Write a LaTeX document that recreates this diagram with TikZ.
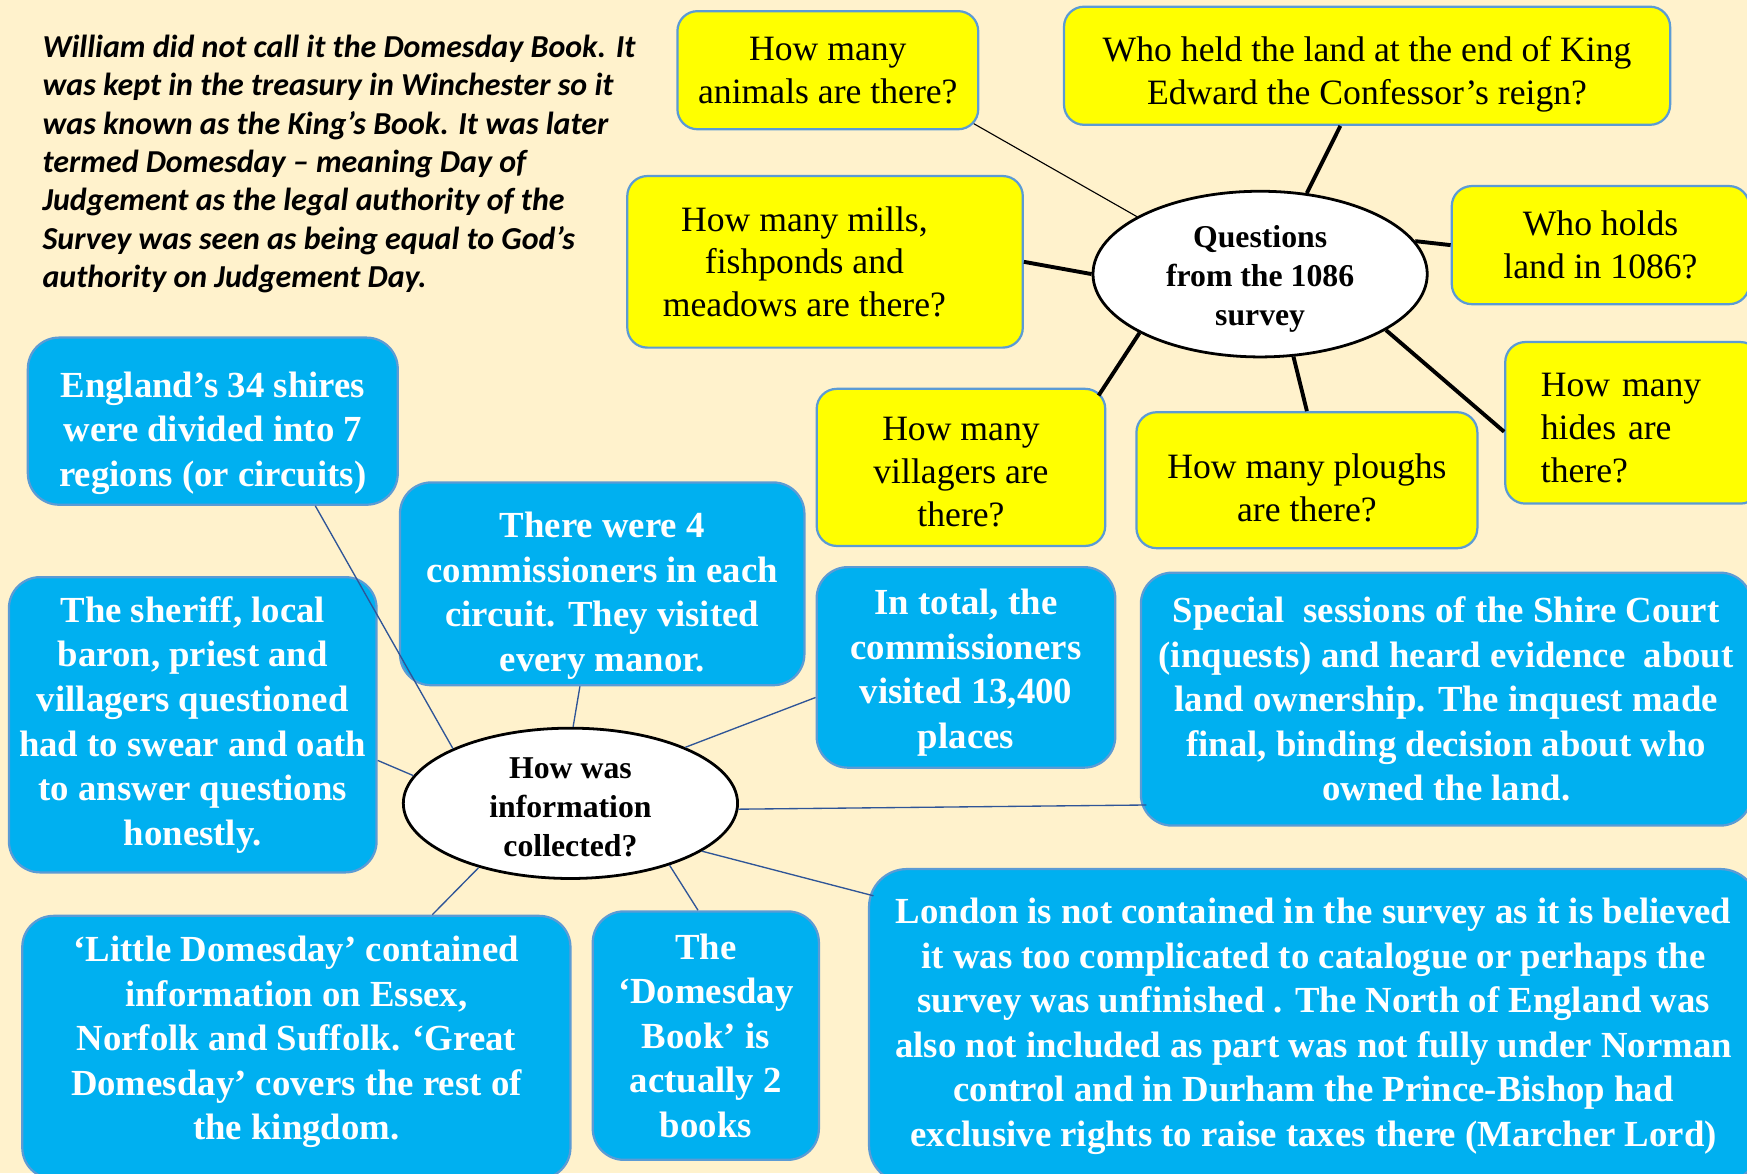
\documentclass[tikz,border=0pt]{standalone}
\usepackage{fontspec}
\setmainfont{Liberation Serif}
\newfontfamily\calibfont{Carlito}
\usetikzlibrary{shapes.geometric}
\definecolor{bgc}{HTML}{FFF2CC}
\definecolor{ylw}{HTML}{FFFF00}
\definecolor{bluef}{HTML}{00B0F0}
\definecolor{edgeb}{HTML}{5B9BD5}
\definecolor{linkb}{HTML}{2F5597}
\newcommand\tdrop[1]{\rule{0pt}{#1pt}}
\newcommand\tlift[1]{\rule[-#1pt]{0pt}{#1pt}}
\newcommand\tleft{\kern37pt\rule{0pt}{1pt}}
\begin{document}
\begin{tikzpicture}[x=1pt,y=-1pt,
  sz/.style 2 args={minimum width=#1pt, minimum height=#2pt},
  ybox/.style={draw=edgeb, line width=2pt, fill=ylw, rounded corners=18pt, align=center, inner sep=0pt, font=\fontsize{32}{38.5}\selectfont},
  bbox/.style={draw=edgeb, line width=2pt, fill=bluef, rounded corners=28pt, align=center, inner sep=0pt, text=white, font=\fontsize{33}{40}\selectfont\bfseries},
  hub/.style={ellipse, draw=black, line width=2.5pt, fill=white, inner sep=0pt, align=center, font=\fontsize{28.5}{35}\selectfont\bfseries},
  qlink/.style={draw=black, line width=3.5pt},
  qthin/.style={draw=black, line width=1pt},
  ilink/.style={draw=linkb, line width=1.2pt},
  note/.style={anchor=north west, inner sep=0pt, align=left, font=\calibfont\fontsize{28.7}{34.5}\selectfont\bfseries\itshape}
]
\clip (0,0) rectangle (1568,1053);
\fill[bgc] (0,0) rectangle (1568,1053);

% intro text
\node[note] (intro) at (38,31) {William did not call it the Domesday Book. It\\was kept in the treasury in Winchester so it\\was known as the King’s Book. It was later\\termed Domesday – meaning Day of\\Judgement as the legal authority of the\\Survey was seen as being equal to God’s\\authority on Judgement Day.};

% questions hub and boxes
\node[hub, sz={300}{134}] (q) at (1131,246) {\tdrop{29}Questions\\from the 1086\\survey};
\node[ybox, sz={270}{106}] (an) at (743,63) {How many\\animals are there?};
\node[ybox, sz={544}{106}] (wh) at (1227,59) {\tdrop{38}Who held the land at the end of King\\Edward the Confessor’s reign?};
\node[ybox, sz={355}{154}] (mi) at (740.5,235) {How many mills,\tleft\\fishponds and\tleft\\meadows are there?\tleft};
\node[ybox, sz={267}{106}] (wo) at (1436.5,220) {Who holds\\land in 1086?};
\node[ybox, sz={229}{145}, inner xsep=32pt, text width=165pt, align=left] (hi) at (1465.5,379.5) {\tdrop{31}How many\\hides are\\there?};
\node[ybox, sz={259}{141}] (vi) at (862.5,419.5) {\tdrop{29}How many\\villagers are\\there?};
\node[ybox, sz={306}{122}] (pl) at (1173,431) {\tdrop{36}How many ploughs\\are there?};

% information hub and boxes
\node[bbox, sz={332}{150}] (A) at (191,378) {\tdrop{44.5}England’s 34 shires\\were divided into 7\\regions (or circuits)};
\node[bbox, sz={363}{182}] (B) at (540.5,524) {\tdrop{44.5}There were 4\\commissioners in each\\circuit. They visited\\every manor.};
\node[bbox, sz={330}{265}] (C) at (173,650.5) {The sheriff, local\\baron, priest and\\villagers questioned\\had to swear and oath\\to answer questions\\honestly.};
\node[bbox, sz={268}{180}] (D) at (867,599) {\tdrop{32.5}In total, the\\commissioners\\visited 13,400\\places};
\node[bbox, sz={548}{227}] (E) at (1298,627.5) {Special\ \ sessions of the Shire Court\\(inquests) and heard evidence\ \ about\\land ownership. The inquest made\\final, binding decision about who\\owned the land.};
\node[bbox, sz={492}{236}] (F) at (266,940) {‘Little Domesday’ contained\\information on Essex,\\Norfolk and Suffolk. ‘Great\\Domesday’ covers the rest of\\the kingdom.\tlift{17}};
\node[bbox, sz={203}{223}] (G) at (633.5,929.5) {The\\‘Domesday\\Book’ is\\actually 2\\books};
\node[bbox, sz={798}{282}, rounded corners=34pt] (Lo) at (1179,921) {London is not contained in the survey as it is believed\\it was too complicated to catalogue or perhaps the\\survey was unfinished . The North of England was\\also not included as part was not fully under Norman\\control and in Durham the Prince-Bishop had\\exclusive rights to raise taxes there (Marcher Lord)};
\node[hub, sz={300}{132}] (h) at (512,721) {\tdrop{25}How was\\information\\collected?};

% question connectors
\draw[qthin] ([xshift=-5pt,yshift=6pt]an.south east) -- (q.155);
\draw[qlink] ([xshift=-24pt]wh.south) -- (q.60);
\draw[qlink] (mi.east) -- (q.180);
\draw[qlink] (wo.west) -- (q.12);
\draw[qlink] ([yshift=-8pt]hi.west) -- (q.-24);
\draw[qlink] (pl.north) -- (q.-68);
\draw[qlink] ([xshift=-7pt,yshift=-7pt]vi.north east) -- (q.206);

% information connectors
\draw[ilink] ([xshift=92pt]A.south) -- (h.155);
\draw[ilink] ([xshift=-20pt]B.south) -- (h.88);
\draw[ilink] ([yshift=-32pt]C.east) -- (h.170);
\draw[ilink] ([yshift=-27pt]D.west) -- (h.26);
\draw[ilink] ([xshift=6pt,yshift=-95pt]E.west) -- (h.-2);
\draw[ilink] ([xshift=5pt,yshift=-25pt]Lo.north west) -- (h.-20);
\draw[ilink] ([xshift=122pt]F.north) -- (h.215);
\draw[ilink] ([xshift=-7pt]G.north) -- (h.-32);
\end{tikzpicture}
\end{document}
